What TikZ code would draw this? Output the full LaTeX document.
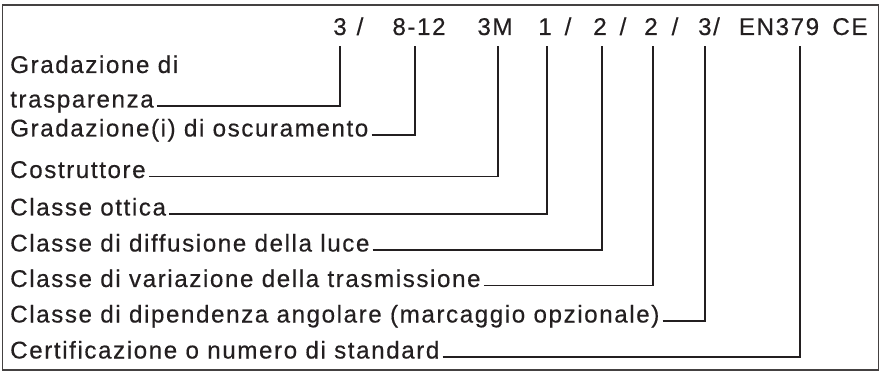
\documentclass[tikz,border=0pt]{standalone}
\usepackage{fontspec}
\setmainfont{Liberation Sans}[LetterSpace=6.5,FakeBold=0.4]
\definecolor{ink}{HTML}{231F20}
\begin{document}
\begin{tikzpicture}[x=1pt,y=-1pt,
  lab/.style={anchor=base west,inner sep=0pt,font=\fontsize{24.2}{28}\selectfont,text=ink},
  tok/.style={anchor=base,inner sep=0pt,font=\fontsize{24.2}{28}\selectfont,text=ink},
  lead/.style={draw=ink,line width=1.2pt},
  frame/.style={draw=ink!85,line width=1.3pt}]
\useasboundingbox (0,0) rectangle (881,374);
\draw[frame] (2.5,5) rectangle (878.5,370);
% top code
\node[tok] (c1) at (340,35) {3};
\node[tok] (s1) at (360,35) {/};
\node[tok] (c2) at (419,35) {8-12};
\node[tok] (c3) at (495,35) {3M};
\node[tok] (c4) at (545,35) {1};
\node[tok] (s2) at (568,35) {/};
\node[tok] (c5) at (600,35) {2};
\node[tok] (s3) at (623,35) {/};
\node[tok] (c6) at (651,35) {2};
\node[tok] (s4) at (675,35) {/};
\node[tok] (c7) at (709,35) {3/};
\node[tok] (c8) at (779,35) {EN379};
\node[tok] (c9) at (850,35) {CE};
% tops of the leader lines
\coordinate (v1) at (340,46);
\coordinate (v2) at (415,46);
\coordinate (v3) at (498,46);
\coordinate (v4) at (547,46);
\coordinate (v5) at (602,46);
\coordinate (v6) at (653,46);
\coordinate (v7) at (705,46);
\coordinate (v8) at (800,46);
% labels
\node[lab] (l0) at (10,73) {Gradazione di};
\node[lab] (l1) at (10,107.5) {trasparenza};
\node[lab] (l2) at (10,136.5) {Gradazione(i) di oscuramento};
\node[lab] (l3) at (10,178) {Costruttore};
\node[lab] (l4) at (10,215.5) {Classe ottica};
\node[lab] (l5) at (10,251.5) {Classe di diffusione della luce};
\node[lab] (l6) at (10,287) {Classe di variazione della trasmissione};
\node[lab] (l7) at (10,322.5) {Classe di dipendenza angolare (marcaggio opzionale)};
\node[lab] (l8) at (10,358.5) {Certificazione o numero di standard};
% leaders
\draw[lead] ([xshift=3pt,yshift=1.5pt]l1.base east) -| (v1);
\draw[lead] ([xshift=3pt,yshift=1.5pt]l2.base east) -| (v2);
\draw[lead] ([xshift=3pt,yshift=1.5pt]l3.base east) -| (v3);
\draw[lead] ([xshift=3pt,yshift=1.5pt]l4.base east) -| (v4);
\draw[lead] ([xshift=3pt,yshift=1.5pt]l5.base east) -| (v5);
\draw[lead] ([xshift=3pt,yshift=1.5pt]l6.base east) -| (v6);
\draw[lead] ([xshift=3pt,yshift=1.5pt]l7.base east) -| (v7);
\draw[lead] ([xshift=3pt,yshift=1.5pt]l8.base east) -| (v8);
\end{tikzpicture}
\end{document}
